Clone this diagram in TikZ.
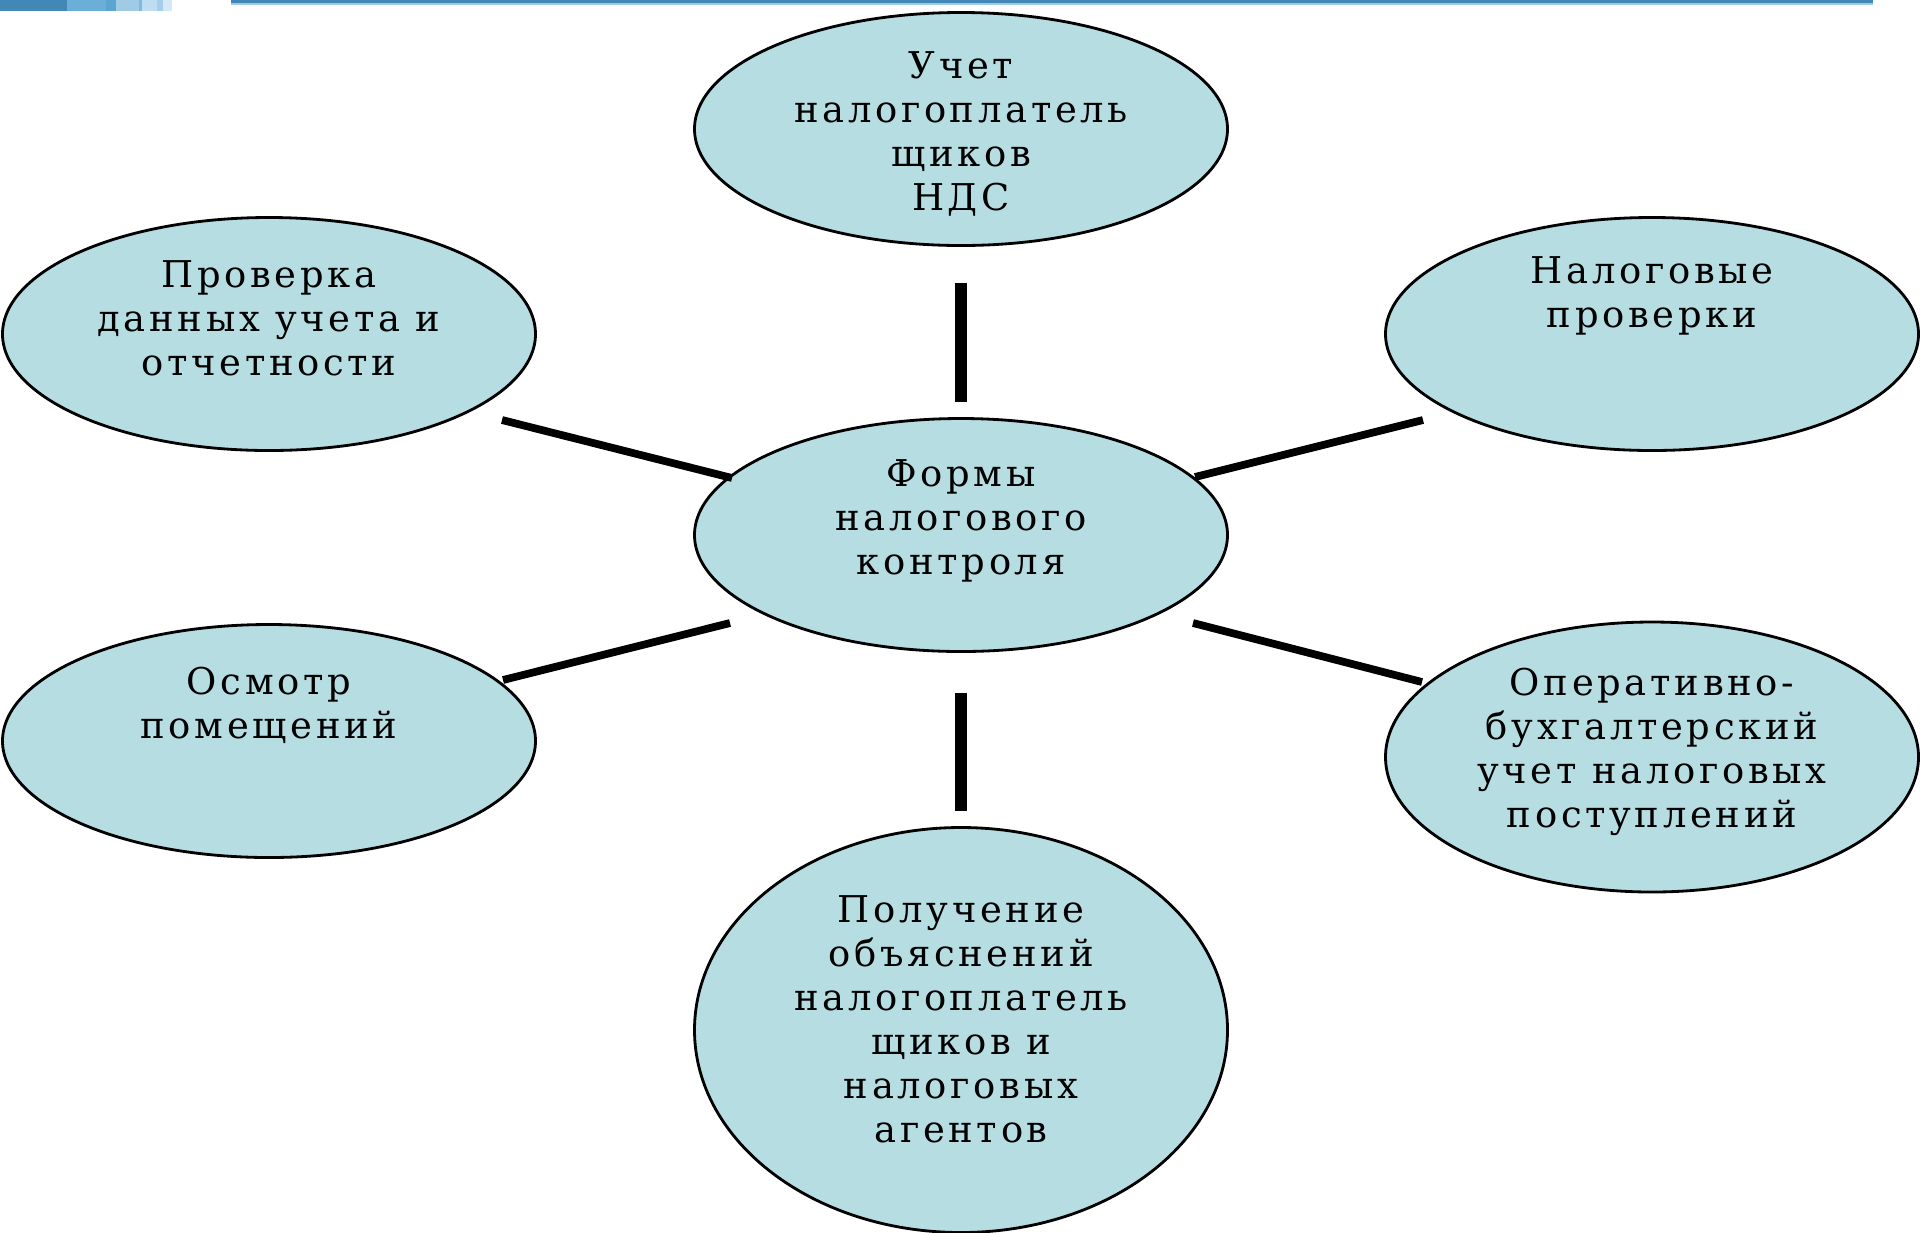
\documentclass[tikz,border=0pt]{standalone}
\usepackage{fontspec}
\setmainfont[LetterSpace=10]{DejaVu Serif}
\usetikzlibrary{shapes.geometric}
\definecolor{bubblefill}{RGB}{182,221,226}
\definecolor{hdrA}{RGB}{66,135,181}
\definecolor{hdrB}{RGB}{107,174,216}
\definecolor{hdrC}{RGB}{90,165,210}
\definecolor{hdrD}{RGB}{159,203,229}
\definecolor{hdrE}{RGB}{127,185,224}
\definecolor{hdrF}{RGB}{191,221,240}
\definecolor{hdrG}{RGB}{165,206,234}
\definecolor{hdrH}{RGB}{213,232,245}

\begin{document}
\begin{tikzpicture}[
    bubble/.style={ellipse, draw=black, line width=0.8pt, fill=bubblefill,
        inner sep=0pt, outer sep=0pt, minimum width=5.33cm, minimum height=2.33cm},
    txt/.style={align=center, inner sep=0pt, font=\fontsize{10.5}{12.5}\selectfont},
    link/.style={line width=2.2pt},
    vlink/.style={line width=3.4pt}]
    \useasboundingbox (0,0) rectangle (19.2,-12.32);
    % header strip
    \fill[hdrA] (0,0) rectangle (0.67,-0.11);
    \fill[hdrB] (0.67,0) rectangle (1.06,-0.11);
    \fill[hdrC] (1.06,0) rectangle (1.16,-0.11);
    \fill[hdrD] (1.16,0) rectangle (1.39,-0.11);
    \fill[hdrE] (1.39,0) rectangle (1.42,-0.11);
    \fill[hdrF] (1.42,0) rectangle (1.57,-0.11);
    \fill[hdrG] (1.57,0) rectangle (1.63,-0.11);
    \fill[hdrH] (1.63,0) rectangle (1.72,-0.11);
    \fill[hdrD] (2.31,-0.02) rectangle (18.73,-0.045);
    \fill[hdrA] (2.31,0) rectangle (18.73,-0.025);
    % ellipses
    \node[bubble] (ctr) at (9.61,-5.35) {};
    \node[bubble] (nds) at (9.61,-1.29) {};
    \node[bubble] (check) at (2.69,-3.34) {};
    \node[bubble] (audit) at (16.52,-3.34) {};
    \node[bubble] (inspect) at (2.69,-7.41) {};
    \node[bubble, minimum height=2.70cm] (oper) at (16.52,-7.57) {};
    \node[bubble, minimum height=4.05cm] (explain) at (9.61,-10.30) {};
    % texts
    \node[txt] (ctr-t) at (9.61,-5.21) {Формы\\налогового\\контроля};
    \node[txt] (nds-t) at (9.61,-1.34) {Учет\\налогоплатель\\щиков\\НДС};
    \node[txt] (check-t) at (2.69,-3.18) {Проверка\\данных учета и\\отчетности};
    \node[txt] (audit-t) at (16.52,-2.96) {Налоговые\\проверки};
    \node[txt] (inspect-t) at (2.69,-7.05) {Осмотр\\помещений};
    \node[txt] (oper-t) at (16.52,-7.52) {Оперативно-\\бухгалтерский\\учет налоговых\\поступлений};
    \node[txt] (explain-t) at (9.61,-10.19) {Получение\\объяснений\\налогоплатель\\щиков и\\налоговых\\агентов};
    % connectors
    \draw[vlink] ([yshift=0.17cm]ctr.north) -- ([yshift=-0.37cm]nds.south);
    \draw[vlink] ([yshift=-0.41cm]ctr.south) -- ([yshift=0.17cm]explain.north);
    \draw[link] ([shift={(-2.29,0.57)}]ctr.center) -- ([shift={(2.33,-0.86)}]check.center);
    \draw[link] ([shift={(2.34,0.58)}]ctr.center) -- ([shift={(-2.29,-0.86)}]audit.center);
    \draw[link] ([shift={(-2.31,-0.88)}]ctr.center) -- ([shift={(2.34,0.61)}]inspect.center);
    \draw[link] ([shift={(2.32,-0.88)}]ctr.center) -- ([shift={(-2.30,0.75)}]oper.center);
\end{tikzpicture}
\end{document}
